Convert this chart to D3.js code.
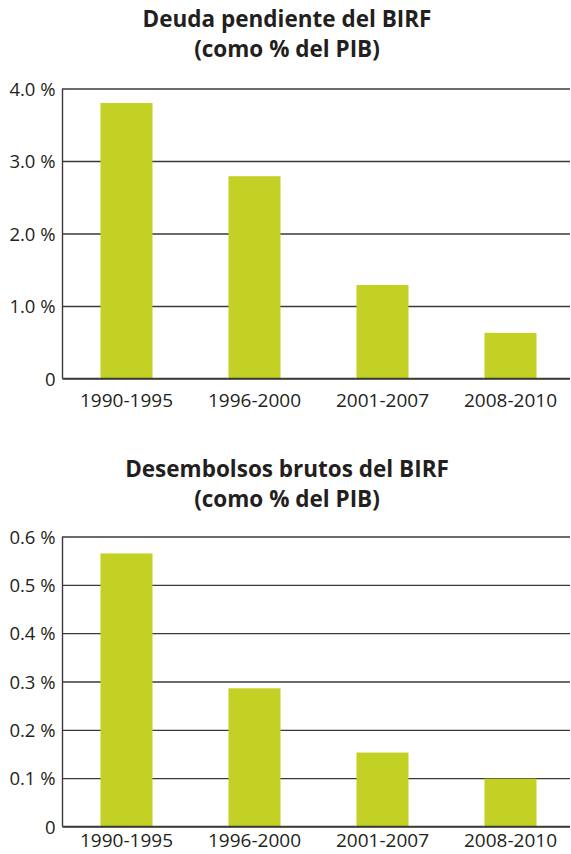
<!DOCTYPE html>
<html>
<head>
<meta charset="utf-8">
<script src="https://cdn.jsdelivr.net/npm/d3@7"></script>
<style>
  html, body { margin: 0; padding: 0; background: #fff; }
  svg { display: block; }
</style>
</head>
<body>
<svg id="chart" width="571" height="854"></svg>
<script>
// ---- data ----
const categories = ["1990-1995", "1996-2000", "2001-2007", "2008-2010"];
const deudaValues = [3.80, 2.79, 1.29, 0.63];
const desembolsosValues = [0.565, 0.286, 0.153, 0.099];
const deudaTicks = [0, 1, 2, 3, 4];
const deudaTickLabels = ["0", "1.0 %", "2.0 %", "3.0 %", "4.0 %"];
const desembolsosTicks = [0, 0.1, 0.2, 0.3, 0.4, 0.5, 0.6];
const desembolsosTickLabels = ["0", "0.1 %", "0.2 %", "0.3 %", "0.4 %", "0.5 %", "0.6 %"];
const titles1 = ["Deuda pendiente del BIRF", "(como % del PIB)"];
const titles2 = ["Desembolsos brutos del BIRF", "(como % del PIB)"];

const svg = d3.select("#chart");
const barColor = "#c3d024";
const textColor = "#231f20";
const lineColor = "#3a3a3a";

function drawPanel(cfg) {
  const g = svg.append("g");
  const x = d3.scaleBand().domain(categories).range([62.5, 574.5])
    .paddingInner(0.59375).paddingOuter(0.296875);
  const y = d3.scaleLinear().domain([0, d3.max(cfg.ticks)]).range([cfg.y0, cfg.y1]);

  // titles
  g.selectAll("text.title").data(cfg.titles).enter().append("text")
    .attr("class", "title")
    .attr("x", 287)
    .attr("y", (d, i) => cfg.titleY + i * 30)
    .attr("text-anchor", "middle")
    .attr("font-family", "'Open Sans', sans-serif")
    .attr("font-weight", "bold")
    .attr("font-size", 22.5)
    .attr("fill", textColor)
    .text(d => d);

  // grid lines
  const yAxis = d3.axisLeft(y).tickValues(cfg.ticks)
    .tickFormat((d, i) => cfg.tickLabels[i])
    .tickSize(-(570 - 62.5)).tickPadding(7);
  const ya = g.append("g").attr("transform", "translate(62.5,0)").call(yAxis);
  ya.select(".domain").remove();
  ya.selectAll(".tick line").attr("stroke", lineColor).attr("stroke-width", 1.4);
  ya.selectAll(".tick text")
    .attr("font-family", "'Open Sans', sans-serif")
    .attr("font-size", 18.5)
    .attr("fill", textColor)
    .attr("dy", "0.36em");

  // bars
  g.selectAll("rect.bar").data(cfg.values).enter().append("rect")
    .attr("class", "bar")
    .attr("x", (d, i) => x(categories[i]))
    .attr("width", x.bandwidth())
    .attr("y", d => y(d))
    .attr("height", d => y(0) - y(d))
    .attr("fill", barColor);

  // left axis line
  g.append("line")
    .attr("x1", 62.5).attr("x2", 62.5)
    .attr("y1", y(d3.max(cfg.ticks))).attr("y2", y(0))
    .attr("stroke", lineColor).attr("stroke-width", 1.4);
  // baseline on top of bars
  g.append("line")
    .attr("x1", 62.5).attr("x2", 570)
    .attr("y1", y(0)).attr("y2", y(0))
    .attr("stroke", lineColor).attr("stroke-width", 1.4);

  // x axis labels
  const xAxis = d3.axisBottom(x).tickSize(0).tickPadding(0);
  const xa = g.append("g").attr("transform", `translate(0,${cfg.labelY})`).call(xAxis);
  xa.select(".domain").remove();
  xa.selectAll(".tick text")
    .attr("font-family", "'Open Sans', sans-serif")
    .attr("font-size", 19)
    .attr("fill", textColor)
    .attr("dy", 0)
    .attr("y", 0);
}

drawPanel({
  titles: titles1, titleY: 27,
  values: deudaValues, ticks: deudaTicks, tickLabels: deudaTickLabels,
  y0: 378.5, y1: 88.5, labelY: 407
});
drawPanel({
  titles: titles2, titleY: 477,
  values: desembolsosValues, ticks: desembolsosTicks, tickLabels: desembolsosTickLabels,
  y0: 826.5, y1: 536.5, labelY: 847
});
</script>
</body>
</html>
